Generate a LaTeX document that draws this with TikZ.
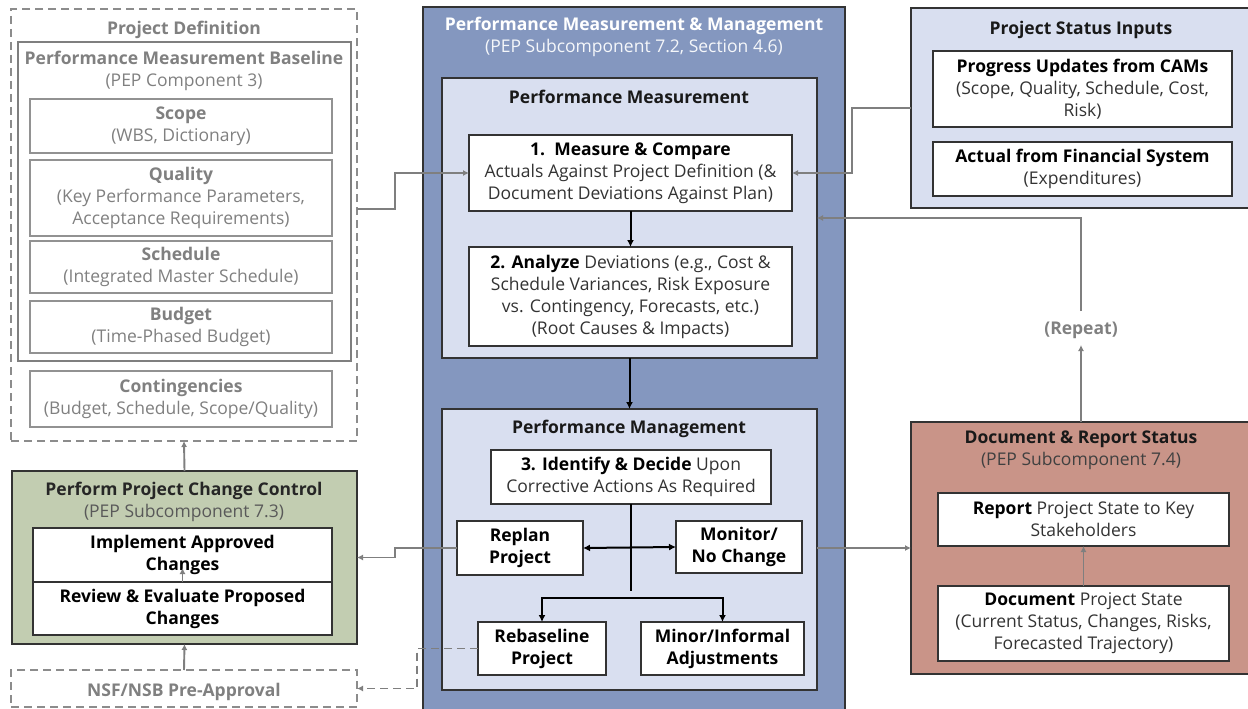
\documentclass[tikz,border=0pt]{standalone}
\usepackage{fontspec}
\setmainfont{Open Sans}
\usetikzlibrary{arrows.meta,calc}
\definecolor{blueM}{HTML}{8497BF}
\definecolor{blueL}{HTML}{D9DFF0}
\definecolor{greenB}{HTML}{C2CDB1}
\definecolor{redB}{HTML}{C99488}
\definecolor{grayT}{HTML}{808080}
\definecolor{grayL}{HTML}{7F7F7F}
\definecolor{darkT}{HTML}{333333}
\definecolor{edge}{HTML}{333333}
\newcommand\fs{\fontsize{17.5}{22}\selectfont}
\newcommand\lnstrut{\rule[-4.75pt]{0pt}{22pt}}
\newcommand\bxstrut{\rule[-1.75pt]{0pt}{22pt}}
\newcommand\bx[7]{\node[#6, minimum width={#4-#2}, minimum height={#5-#3}] (#1) at ({(#2+#4)/2},{(#3+#5)/2}) {#7};}
\begin{document}
\begin{tikzpicture}[x=1pt,y=-1pt,
  core/.style={outer sep=0pt, inner sep=0pt, align=center, font=\fs},
  base/.style={core, execute at begin node=\lnstrut, execute at end node=\lnstrut},
  inbox/.style={core, execute at begin node=\bxstrut, execute at end node=\bxstrut},
  box/.style={inbox, draw=edge, line width=1.1pt, fill=white, text=darkT},
  gbox/.style={inbox, draw=grayL!85, line width=1.1pt, fill=white, text=grayT},
  pmbox/.style={core, draw=grayL, line width=2.2pt},
  dbox/.style={inbox, draw=grayL!90, line width=1.8pt, dash pattern=on 8pt off 5pt, text=grayT},
  cont/.style={core, draw=edge, line width=1.1pt},
  lbl/.style={base},
  garrow/.style={draw=grayL, line width=1.9pt, -{Latex[length=6pt,width=6pt]}},
  gdash/.style={garrow, dash pattern=on 8pt off 5pt},
  barrow/.style={draw=black, line width=2pt, -{Latex[length=7pt,width=7pt]}},
  bline/.style={draw=black, line width=2pt}
]
\useasboundingbox (0,0) rectangle (1248,709);

% ---------- Project Definition ----------
\bx{pd}{11}{9}{357}{441}{dbox}{}
\node[lbl, text=grayT] (pdt) at (184,28) {\bfseries Project Definition};
\bx{pmb}{18}{42}{351}{361}{pmbox}{}
\node[lbl, text=grayT] (pmbt) at (184,58) {\bfseries Performance Measurement Baseline};
\node[lbl, text=grayT] (pmbs) at (184,80) {(PEP Component 3)};
\bx{scope}{30}{99}{332}{153}{gbox}{{\bfseries Scope}\\(WBS, Dictionary)}
\bx{quality}{30}{160}{332}{236}{gbox}{{\bfseries Quality}\\(Key Performance Parameters,\\Acceptance Requirements)}
\bx{sched}{30}{241}{332}{293}{gbox}{{\bfseries Schedule}\\(Integrated Master Schedule)}
\bx{budget}{30}{301}{332}{353}{gbox}{{\bfseries Budget}\\(Time-Phased Budget)}
\bx{conting}{30}{371}{332}{427}{gbox}{{\bfseries Contingencies}\\(Budget, Schedule, Scope/Quality)}

% ---------- Change control ----------
\bx{pcc}{12}{471}{357}{644}{cont, fill=greenB}{}
\node[lbl, text=black!85] (pcct) at (184,489) {\bfseries Perform Project Change Control};
\node[lbl, text=black!65] (pccs) at (184,511) {(PEP Subcomponent 7.3)};
\bx{impl}{33}{528}{332}{582}{box}{\bfseries\color{black}Implement Approved\\\bfseries\color{black}Changes}
\bx{review}{33}{582}{332}{635}{box}{\bfseries\color{black}Review \& Evaluate Proposed\\\bfseries\color{black}Changes}
\bx{nsf}{11}{670}{357}{707}{dbox}{\bfseries NSF/NSB Pre-Approval}

% ---------- Main blue ----------
\bx{pmm}{423}{7}{845}{730}{cont, fill=blueM}{}
\node[lbl, text=white] (pmmt) at (634,24) {\bfseries Performance Measurement \& Management};
\node[lbl, text=white!92!blueM] (pmms) at (634,46) {(PEP Subcomponent 7.2, Section 4.6)};
\bx{pm}{442}{78}{817}{358}{cont, fill=blueL}{}
\node[lbl, text=black!90] (pmt) at (629,97) {\bfseries Performance Measurement};
\bx{mc}{469}{135}{792}{211}{box}{{\bfseries\color{black}1.\ \ Measure \& Compare}\\Actuals Against Project Definition (\&\\Document Deviations Against Plan)}
\bx{an}{469}{247}{792}{346}{box}{{\bfseries\color{black}2. Analyze} Deviations (e.g., Cost \&\\Schedule Variances, Risk Exposure\\vs. Contingency, Forecasts, etc.)\\(Root Causes \& Impacts)}
\bx{pmg}{442}{409}{817}{690}{cont, fill=blueL}{}
\node[lbl, text=black!90] (pmgt) at (629,427) {\bfseries Performance Management};
\bx{ident}{491}{450}{771}{504}{box}{{\bfseries\color{black}3. Identify \& Decide} Upon\\Corrective Actions As Required}
\bx{replan}{457}{521}{583}{575}{box}{\bfseries\color{black}Replan\\\bfseries\color{black}Project}
\bx{monitor}{676}{521}{802}{573}{box}{\bfseries\color{black}Monitor/\\\bfseries\color{black}No Change}
\bx{rebase}{478}{622}{606}{675}{box}{\bfseries\color{black}Rebaseline\\\bfseries\color{black}Project}
\bx{minor}{641}{622}{804}{675}{box}{\bfseries\color{black}Minor/Informal\\\bfseries\color{black}Adjustments}

% ---------- Project Status Inputs ----------
\bx{psi}{911}{8}{1252}{208}{cont, fill=blueL}{}
\node[lbl, text=black!90] (psit) at (1081,28) {\bfseries Project Status Inputs};
\bx{prog}{933}{51}{1232}{127}{box}{{\bfseries\color{black}Progress Updates from CAMs}\\(Scope, Quality, Schedule, Cost,\\Risk)}
\bx{actual}{933}{142}{1232}{196}{box}{{\bfseries\color{black}Actual from Financial System}\\(Expenditures)}

% ---------- Document & Report ----------
\bx{drs}{911}{422}{1252}{674}{cont, fill=redB}{}
\node[lbl, text=black!90] (drst) at (1081,437) {\bfseries Document \& Report Status};
\node[lbl, text=black!75] (drss) at (1081,459) {(PEP Subcomponent 7.4)};
\bx{report}{938}{493}{1229}{546}{box}{{\bfseries\color{black}Report} Project State to Key\\Stakeholders}
\bx{doc}{938}{586}{1229}{661}{box}{{\bfseries\color{black}Document} Project State\\(Current Status, Changes, Risks,\\Forecasted Trajectory)}
\node[base, inner ysep=6pt, text=grayT] (rep) at (1081,328) {\bfseries (Repeat)};

% ---------- Connectors ----------
\draw[garrow] ([yshift=16pt]pd.east) -- ++(38,0) |- (mc.west);
\draw[garrow] (psi.west) -- ++(-59,0) |- (mc.east);
\draw[barrow] (mc.south) -- (an.north);
\draw[barrow] (pm.south) -- (pmg.north);
\coordinate (vend) at (631,591);
\draw[bline] (ident.south) -- (vend);
\draw[barrow, {Latex[length=7pt,width=7pt]}-{Latex[length=7pt,width=7pt]}] (replan.east) -- (monitor.west);
\draw[barrow, {Latex[length=7pt,width=7pt]}-{Latex[length=7pt,width=7pt]}] (rebase.north) -- ++(0,-24) -| (minor.north);
\draw[garrow] (replan.west) -- ++(-62,0) |- (pcc.east);
\draw[gdash] (rebase.west) -- ++(-61,0) |- (nsf.east);
\draw[garrow] (pcc.north) -- (pd.south);
\draw[garrow] (nsf.north) -- (pcc.south);
\draw[garrow] (review.north) -- ++(0,-14);
\draw[garrow] (pmg.east |- replan.east) -- (drs.west |- replan.east);
\draw[garrow] (doc.north) -- (report.south);
\draw[garrow] (drs.north -| rep.south) -- (rep.south);
\draw[garrow] (rep.north) |- (pm.east);
\end{tikzpicture}
\end{document}
